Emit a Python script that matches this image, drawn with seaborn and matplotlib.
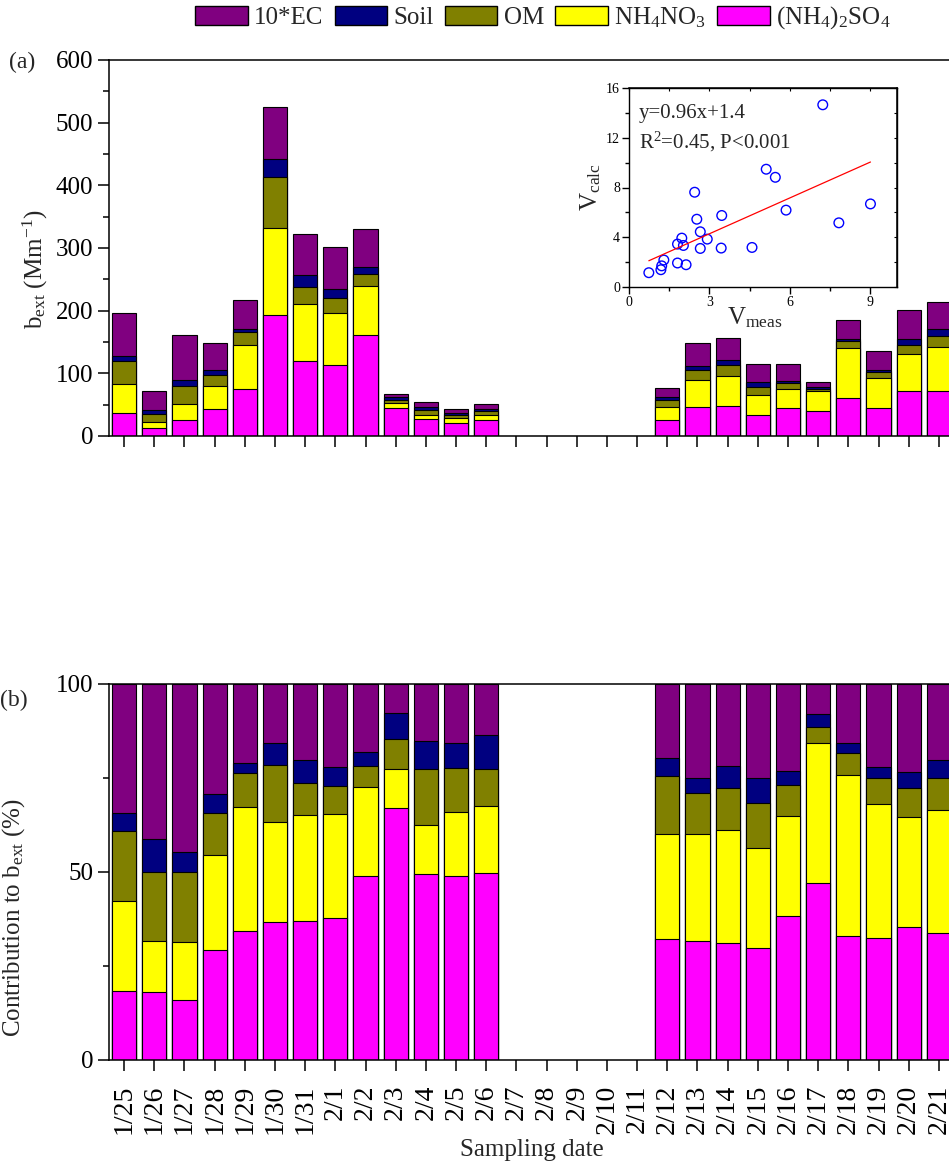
import numpy as np
import pandas as pd
import matplotlib
matplotlib.use("Agg")
import matplotlib.pyplot as plt
import seaborn as sns
from matplotlib.patches import Patch
from matplotlib.ticker import MultipleLocator

# ---- data -------------------------------------------------------------
all_dates = ["1/25", "1/26", "1/27", "1/28", "1/29", "1/30", "1/31",
             "2/1", "2/2", "2/3", "2/4", "2/5", "2/6", "2/7", "2/8", "2/9",
             "2/10", "2/11", "2/12", "2/13", "2/14", "2/15", "2/16", "2/17",
             "2/18", "2/19", "2/20", "2/21"]
obs_dates = ["1/25", "1/26", "1/27", "1/28", "1/29", "1/30", "1/31",
             "2/1", "2/2", "2/3", "2/4", "2/5", "2/6",
             "2/12", "2/13", "2/14", "2/15", "2/16", "2/17", "2/18", "2/19",
             "2/20", "2/21"]

# total reconstructed extinction (Mm-1)
b_ext_total = [195.7, 71.8, 160.6, 147.9, 216.5, 525.5, 322.9, 301.6, 330.3,
               67.6, 54.3, 43.6, 50.5,
               77.1, 148.4, 155.9, 114.4, 114.9, 85.6, 184.6, 135.6, 201.6, 213.8]

# percentage contribution of each species
pct_sulfate = [18.4, 18.0, 16.0, 29.2, 34.4, 36.8, 37.1, 37.8, 49.0, 67.1, 49.5, 49.0, 49.8,
               32.3, 31.6, 31.0, 29.7, 38.4, 47.0, 33.1, 32.4, 35.4, 33.7]
pct_nitrate = [24.0, 13.7, 15.5, 25.2, 33.0, 26.5, 28.1, 27.5, 23.7, 10.2, 12.9, 16.9, 17.8,
               27.7, 28.6, 30.2, 26.8, 26.6, 37.2, 42.8, 35.6, 29.3, 32.8]
pct_om = [18.6, 18.2, 18.4, 11.4, 8.9, 15.2, 8.5, 7.5, 5.5, 8.2, 15.0, 11.7, 9.9,
          15.4, 10.8, 11.1, 11.8, 8.2, 4.3, 5.8, 7.1, 7.6, 8.4]
pct_soil = [4.6, 8.8, 5.4, 5.0, 2.6, 5.7, 6.1, 5.0, 3.6, 6.9, 7.4, 6.6, 8.9,
            4.9, 3.9, 5.9, 6.6, 3.6, 3.6, 2.5, 2.9, 4.2, 4.9]
pct_ec = [34.4, 41.3, 44.7, 29.2, 21.1, 15.8, 20.2, 22.2, 18.2, 7.6, 15.2, 15.8, 13.6,
          19.7, 25.1, 21.8, 25.1, 23.2, 7.9, 15.8, 22.0, 23.5, 20.2]

species_labels = [r"(NH$_4$)$_2$SO$_4$", r"NH$_4$NO$_3$", "OM", "Soil", "10*EC"]
species_colors = ["#FF00FF", "#FFFF00", "#808000", "#000080", "#800080"]

# inset: measured vs calculated visibility
v_meas = [0.74, 1.19, 1.22, 1.30, 1.81, 2.13, 1.81, 1.97, 2.03, 2.45, 2.53, 2.66,
          2.66, 2.92, 3.46, 3.44, 4.59, 5.12, 5.46, 5.86, 7.23, 7.83, 9.01]
v_calc = [1.15, 1.39, 1.70, 2.17, 1.93, 1.79, 3.45, 3.93, 3.34, 7.62, 5.45, 4.44,
          3.10, 3.85, 5.75, 3.13, 3.18, 9.47, 8.82, 6.18, 14.65, 5.16, 6.68]
fit_slope, fit_intercept = 0.96, 1.4

# ---- style -------------------------------------------------------------
sns.set_style("ticks")
plt.rcParams.update({
    "font.family": ["Liberation Serif", "DejaVu Serif"],
    "mathtext.fontset": "custom",
    "mathtext.rm": "Liberation Serif",
    "mathtext.it": "Liberation Serif:italic",
    "mathtext.bf": "Liberation Serif:bold",
    "axes.linewidth": 1.1,
    "axes.edgecolor": "black",
    "xtick.color": "black",
    "ytick.color": "black",
})

W, H = 949, 1169
fig = plt.figure(figsize=(W / 100, H / 100), dpi=100)


def px_rect(x0, y0, x1, y1):
    return [x0 / W, 1 - y1 / H, (x1 - x0) / W, (y1 - y0) / H]


ax_a = fig.add_axes(px_rect(109, 60, 954, 436))
ax_b = fig.add_axes(px_rect(109, 684, 954, 1060))

shares = np.array([pct_sulfate, pct_nitrate, pct_om, pct_soil, pct_ec])
cum_pct = np.cumsum(shares, axis=0)
cum_abs = cum_pct / 100.0 * np.array(b_ext_total)

# stacked bars drawn as overlaid cumulative bars, top layer first
for ax, cum in ((ax_a, cum_abs), (ax_b, cum_pct)):
    for k in range(len(species_labels) - 1, -1, -1):
        sns.barplot(x=obs_dates, y=cum[k], order=all_dates, color=species_colors[k],
                    saturation=1, width=0.8, edgecolor="black", linewidth=0.8,
                    errorbar=None, ax=ax)
    ax.set_xlim(-0.5, len(all_dates) - 0.5)
    ax.tick_params(axis="both", which="major", direction="out", length=8,
                   width=1.1, labelsize=18)
    ax.tick_params(axis="y", which="minor", direction="out", length=4, width=1.1)
    ax.set_xticks(range(len(all_dates)))
    for s in ax.spines.values():
        s.set_linewidth(1.1)

ax_a.set_ylim(0, 600)
ax_a.yaxis.set_major_locator(MultipleLocator(100))
ax_a.yaxis.set_minor_locator(MultipleLocator(50))
ax_a.set_xticklabels([])
ax_a.set_xlabel("")
ax_a.set_ylabel(r"b$_{\mathrm{ext}}$ (Mm$^{-1}$)", fontsize=18)
ax_a.yaxis.set_label_coords(-0.070, 0.444)

ax_b.set_ylim(0, 100)
ax_b.yaxis.set_major_locator(MultipleLocator(50))
ax_b.yaxis.set_minor_locator(MultipleLocator(25))
ax_b.set_xticklabels(all_dates, rotation=90, fontsize=20)
ax_b.tick_params(axis="x", pad=10)
ax_b.set_xlabel("Sampling date", fontsize=18, labelpad=3)
ax_b.set_ylabel(r"Contribution to b$_{\mathrm{ext}}$ (%)", fontsize=18)
ax_b.yaxis.set_label_coords(-0.097, 0.378)

fig.text(9 / W, 1 - 62 / H, "(a)", fontsize=17, va="center", ha="left")
fig.text(0 / W, 1 - 700 / H, "(b)", fontsize=17, va="center", ha="left")

# legend across the top
handles = [Patch(facecolor=species_colors[k], edgecolor="black", linewidth=1.0,
                 label=species_labels[k]) for k in range(len(species_labels) - 1, -1, -1)]
fig.legend(handles=handles, loc="center", bbox_to_anchor=(543 / W, 1 - 18 / H),
           ncol=5, frameon=False, fontsize=18, handlelength=2.1, handleheight=0.8,
           handletextpad=0.25, columnspacing=0.45, borderaxespad=0)

# ---- inset scatter ----------------------------------------------------
ax_in = fig.add_axes(px_rect(629, 88, 897, 287))
sns.scatterplot(x=v_meas, y=v_calc, ax=ax_in, marker="o", s=48,
                facecolor="none", edgecolor="#0000FF", linewidth=1.0)
x_fit = np.array([min(v_meas), max(v_meas)])
sns.lineplot(x=x_fit, y=fit_slope * x_fit + fit_intercept, ax=ax_in,
             color="red", linewidth=0.9)
ax_in.set_xlim(0, 10)
ax_in.set_ylim(0, 16)
ax_in.xaxis.set_major_locator(MultipleLocator(3))
ax_in.xaxis.set_minor_locator(MultipleLocator(1.5))
ax_in.yaxis.set_major_locator(MultipleLocator(4))
ax_in.yaxis.set_minor_locator(MultipleLocator(2))
ax_in.tick_params(which="major", direction="out", length=5, width=1.0,
                  labelsize=10, pad=1.5)
ax_in.tick_params(which="minor", direction="out", length=3, width=1.0)
for s in ax_in.spines.values():
    s.set_linewidth(1.0)
sec_r = ax_in.secondary_yaxis("right")
sec_r.yaxis.set_major_locator(MultipleLocator(2))
sec_r.tick_params(direction="in", length=2.5, width=0.8, labelright=False)
sec_t = ax_in.secondary_xaxis("top")
sec_t.xaxis.set_major_locator(MultipleLocator(1.5))
sec_t.tick_params(direction="in", length=2.5, width=0.8, labeltop=False)

ax_in.set_xlabel(r"V$_{\mathrm{meas}}$", fontsize=18, labelpad=-1)
ax_in.xaxis.set_label_coords(0.47, -0.09)
ax_in.set_ylabel(r"V$_{\mathrm{calc}}$", fontsize=18, labelpad=2)
ax_in.text(0.037, 0.87, "y=0.96x+1.4", transform=ax_in.transAxes,
           fontsize=15, va="center", ha="left")
ax_in.text(0.037, 0.73, r"R$^2$=0.45, P<0.001", transform=ax_in.transAxes,
           fontsize=15, va="center", ha="left")

fig.savefig("out.png", dpi=100)
